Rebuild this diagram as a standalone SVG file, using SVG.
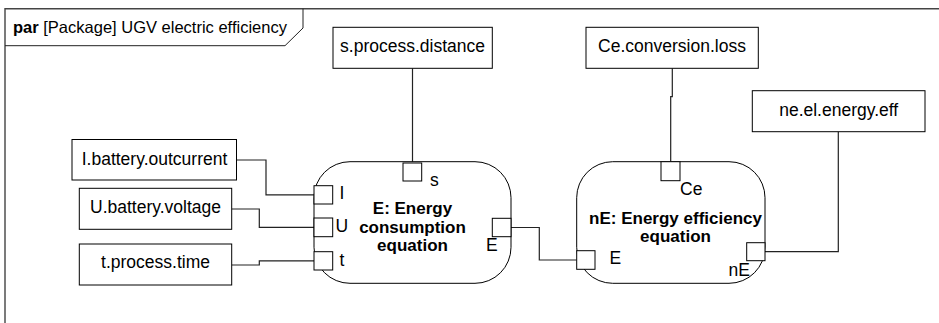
<svg xmlns="http://www.w3.org/2000/svg" width="939" height="323" viewBox="0 0 939 323">
<style>
.t{font-family:"Liberation Sans",Arial,sans-serif;font-size:17.5px;fill:#000}
.b{font-family:"Liberation Sans",Arial,sans-serif;font-size:17px;font-weight:bold;fill:#000}
.c{text-anchor:middle}
.box{fill:#fff;stroke:#000;stroke-width:1}
.port{fill:#fff;stroke:#000;stroke-width:1}
.blk{fill:#fff;stroke:#000;stroke-width:1}
.ln{fill:none;stroke:#222;stroke-width:1.2}
</style>
<rect width="939" height="323" fill="#fff"/>
<g id="frame">
<path d="M5,323 V8.7 H939" fill="none" stroke="#444" stroke-width="1.4"/>
<path d="M5,45.7 H285 L303,28 V8.7" fill="none" stroke="#222" stroke-width="1"/>
<text class="t" x="13" y="33.3" style="font-size:16.5px"><tspan font-weight="bold">par</tspan> [Package] UGV electric efficiency</text>
</g>
<g id="connectors">
<path class="ln" d="M237,160 H266 V194.8 H314"/>
<path class="ln" d="M231.7,209 H259.3 V227.3 H314"/>
<path class="ln" d="M231.7,265 H259.3 V260.8 H314"/>
<path class="ln" d="M412.5,68.3 V163"/>
<path class="ln" d="M511,227.5 H539.3 V260 H576.7"/>
<path class="ln" d="M672.3,68.3 V96.7 H670.7 V161.7"/>
<path class="ln" d="M765,251.7 H838.3 V131.7"/>
</g>
<g id="n_I">
<rect class="box" x="72" y="139.5" width="164.5" height="40.5"/>
<text class="t c" x="154.5" y="165">I.battery.outcurrent</text>
</g>
<g id="n_U">
<rect class="box" x="79.3" y="188.3" width="152.4" height="41"/>
<text class="t c" x="155.5" y="213.3">U.battery.voltage</text>
</g>
<g id="n_t">
<rect class="box" x="79.3" y="244" width="152.4" height="41"/>
<text class="t c" x="155.5" y="268.3">t.process.time</text>
</g>
<g id="n_s">
<rect class="box" x="333" y="27.3" width="159.3" height="41"/>
<text class="t c" x="412.5" y="52.3">s.process.distance</text>
</g>
<g id="n_Ce">
<rect class="box" x="586" y="27.3" width="172.3" height="41"/>
<text class="t c" x="672" y="52.3">Ce.conversion.loss</text>
</g>
<g id="n_ne">
<rect class="box" x="752.3" y="90.7" width="172.7" height="41"/>
<text class="t c" x="838.7" y="116">ne.el.energy.eff</text>
</g>
<g id="n_E">
<rect class="blk" x="314" y="161.7" width="197" height="121.6" rx="36" ry="36"/>
<rect class="port" x="403" y="163" width="18.7" height="18"/>
<text class="t" x="430" y="186">s</text>
<rect class="port" x="314" y="185.7" width="18.7" height="18.3"/>
<text class="t" x="339.5" y="198.5">I</text>
<rect class="port" x="314" y="218" width="18.7" height="18.7"/>
<text class="t" x="335.5" y="232">U</text>
<rect class="port" x="314" y="251.7" width="18.7" height="18.3"/>
<text class="t" x="339.5" y="265.5">t</text>
<rect class="port" x="492.3" y="218.3" width="18.7" height="18.4"/>
<text class="t" x="486" y="250.5">E</text>
<text class="b c" x="412.5" y="214">E: Energy</text>
<text class="b c" x="412.5" y="232.5">consumption</text>
<text class="b c" x="412.5" y="251">equation</text>
</g>
<g id="n_nE">
<rect class="blk" x="576.7" y="161.7" width="188.3" height="121.6" rx="36" ry="36"/>
<rect class="port" x="661" y="161.7" width="19" height="19"/>
<text class="t" x="680" y="195">Ce</text>
<rect class="port" x="576.7" y="250.7" width="18.3" height="18.6"/>
<text class="t" x="609.5" y="263.5">E</text>
<rect class="port" x="746.7" y="242.7" width="18.3" height="18"/>
<text class="t" x="728.5" y="276">nE</text>
<text class="b c" x="675.5" y="223.5">nE: Energy efficiency</text>
<text class="b c" x="675.5" y="242">equation</text>
</g>
</svg>
